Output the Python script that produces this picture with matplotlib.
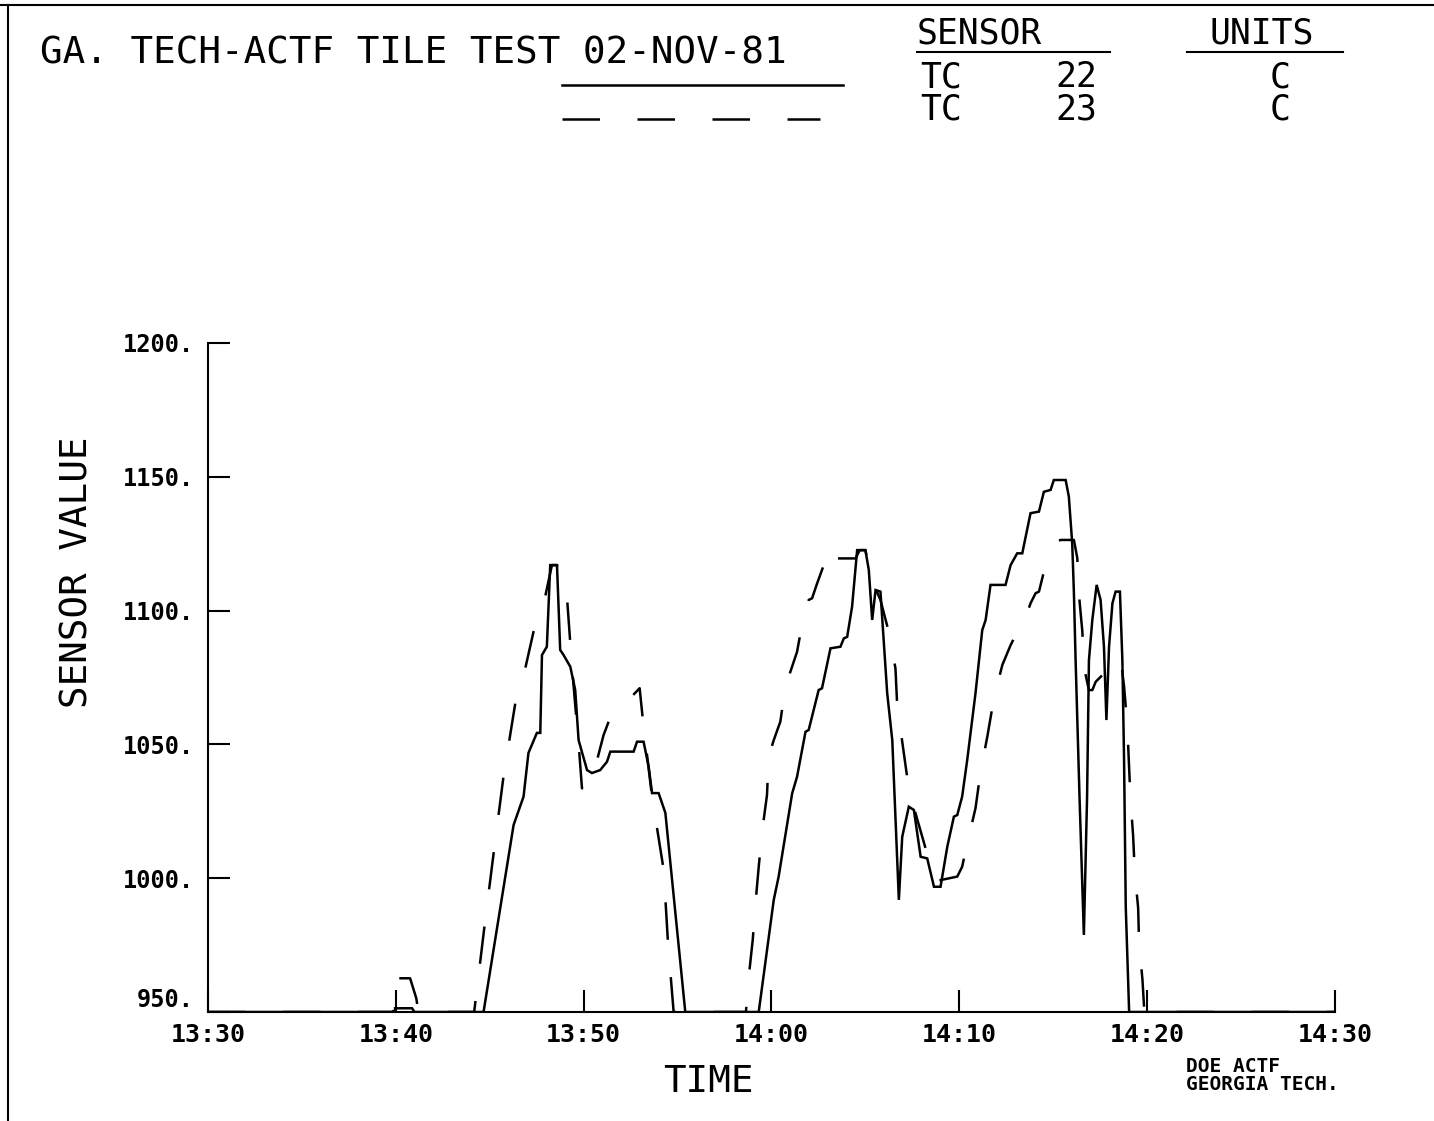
import matplotlib
matplotlib.use("Agg")
import matplotlib.pyplot as plt
from matplotlib.lines import Line2D

# minutes after 13:30 and sensor value (C)
tc22_t = [0, 9.96, 9.96, 10.86, 11.0, 14.67, 16.27, 16.80, 17.06, 17.51, 17.69, 17.78,
          18.04, 18.22, 18.58, 18.75, 18.93, 19.29, 19.55, 19.73, 20.18, 20.44, 20.88,
          21.24, 21.42, 22.66, 22.84, 23.19, 23.46, 23.64, 23.99, 24.35, 25.41, 29.32,
          30.12, 30.38, 31.10, 31.36, 31.81, 31.98, 32.51, 32.69, 33.14, 33.67, 33.85,
          34.03, 34.29, 34.56, 35.00, 35.18, 35.36, 35.54, 35.80, 36.16, 36.43, 36.78,
          36.96, 37.31, 37.58, 37.94, 38.29, 38.65, 39.00, 39.36, 39.71, 39.89, 40.15,
          40.42, 40.86, 41.22, 41.40, 41.66, 42.46, 42.73, 43.08, 43.35, 43.79, 44.24,
          44.50, 44.86, 45.03, 45.66, 45.83, 46.01, 46.10, 46.19, 46.40, 46.63, 46.80,
          46.90, 47.08, 47.31, 47.52, 47.70, 47.83, 47.97, 48.15, 48.32, 48.55, 48.68,
          48.77, 48.86, 49.04, 60]
tc22_v = [950, 950, 951.4, 951.4, 950, 950, 1019.9, 1030.5, 1046.8, 1054.3, 1054.3, 1083.4,
          1086.5, 1117.0, 1117.0, 1085.3, 1083.4, 1079.0, 1070.3, 1051.6, 1040.4, 1039.3, 1040.4,
          1043.5, 1047.3, 1047.3, 1051.0, 1051.0, 1041.7, 1031.8, 1031.8, 1024.4, 950, 950,
          991.9, 1000.6, 1031.7, 1037.9, 1054.7, 1055.4, 1070.3, 1071.0, 1085.9, 1086.5, 1089.6,
          1090.2, 1101.5, 1122.6, 1122.6, 1115.2, 1096.5, 1107.7, 1107.1, 1069.1, 1051.6, 991.9,
          1015.5, 1026.7, 1025.5, 1008.0, 1007.4, 996.8, 996.8, 1011.8, 1023.0, 1023.6, 1030.5,
          1044.2, 1069.1, 1092.7, 1096.5, 1109.6, 1109.6, 1117.0, 1121.4, 1121.4, 1136.4, 1137.0,
          1144.4, 1145.1, 1148.8, 1148.8, 1142.6, 1125.1, 1106.5, 1081.5, 1030.0, 978.8, 1030.0,
          1081.5, 1096.5, 1109.6, 1104.0, 1086.5, 1059.1, 1086.5, 1102.7, 1107.1, 1107.1, 1081.5,
          1044.2, 989.3, 950, 950]

tc23_t = [0, 9.87, 9.87, 10.76, 11.09, 11.2, 14.17, 14.76, 15.24, 15.73, 16.36, 16.89,
          17.33, 17.95, 18.31, 18.58, 19.11, 19.25, 19.38, 19.55, 19.73, 19.91, 20.26,
          20.53, 21.06, 21.33, 21.77, 22.04, 22.98, 23.19, 23.64, 24.26, 24.49, 24.79,
          28.64, 28.79, 29.00, 29.14, 29.32, 29.50, 29.76, 29.85, 30.12, 30.47, 30.74,
          31.36, 31.72, 31.98, 32.16, 32.43, 33.14, 33.40, 34.47, 34.70, 35.00, 35.30,
          35.80, 36.24, 36.60, 36.69, 36.96, 37.22, 37.58, 37.67, 38.20, 38.74, 39.00,
          39.89, 40.15, 40.42, 40.86, 41.13, 41.49, 41.84, 42.29, 42.73, 43.00, 43.22,
          43.79, 44.06, 44.24, 44.50, 45.22, 45.39, 46.10, 46.28, 46.37, 46.55, 46.63,
          46.90, 47.08, 47.26, 48.41, 48.59, 48.77, 48.94, 49.11, 49.25, 49.34, 49.52,
          49.57, 49.75, 49.85, 60]
tc23_v = [950, 950, 962.6, 962.6, 955.1, 950, 950, 984.4, 1011.2, 1037.9, 1065.4, 1078.4,
          1092.1, 1105.2, 1117.0, 1117.0, 1105.2, 1091.5, 1079.0, 1064.7, 1050.4, 1033.6, 1033.6,
          1039.2, 1053.5, 1058.5, 1063.5, 1064.1, 1071.0, 1056.6, 1030.5, 1003.1, 975.7, 950,
          950, 963.2, 976.9, 990.0, 1004.3, 1017.4, 1031.1, 1045.4, 1051.6, 1058.5, 1071.6,
          1084.6, 1098.4, 1104.0, 1104.6, 1110.2, 1123.9, 1119.5, 1119.5, 1122.6, 1122.6, 1112.0,
          1104.0, 1092.1, 1078.4, 1064.7, 1051.0, 1037.9, 1026.7, 1024.2, 1011.2, 999.3, 999.3,
          1000.6, 1004.3, 1013.0, 1026.1, 1039.8, 1052.9, 1067.2, 1079.7, 1087.1, 1090.9, 1091.3,
          1102.7, 1106.5, 1107.1, 1114.5, 1125.8, 1126.4, 1126.4, 1119.6, 1105.8, 1092.1, 1079.0,
          1070.3, 1070.3, 1073.4, 1081.5, 1082.2, 1071.6, 1057.3, 1029.9, 1016.1, 1002.4, 988.8,
          975.7, 962.0, 950, 950]

x_ticks = [0, 10, 20, 30, 40, 50, 60]
x_tick_labels = ["13:30", "13:40", "13:50", "14:00", "14:10", "14:20", "14:30"]
y_ticks = [950, 1000, 1050, 1100, 1150, 1200]
y_tick_labels = ["950.", "1000.", "1050.", "1100.", "1150.", "1200."]

W, H = 1434, 1121
MONO = "DejaVu Sans Mono"
LW = 1.8
DASH = (0, (15, 15))
HDR = 25


def fx(x):
    return x / W


def fy(y):
    return 1 - y / H


fig = plt.figure(figsize=(W / 100, H / 100), dpi=100)
ax = fig.add_axes([fx(208), fy(1012), fx(1335) - fx(208), fy(343) - fy(1012)])

ax.plot(tc22_t, tc22_v, color="black", lw=LW, solid_joinstyle="miter")
ax.plot(tc23_t, tc23_v, color="black", lw=LW, linestyle=DASH)

ax.set_xlim(0, 60)
ax.set_ylim(950, 1200)
ax.spines["top"].set_visible(False)
ax.spines["right"].set_visible(False)
ax.spines["left"].set_linewidth(1.5)
ax.spines["bottom"].set_linewidth(1.5)
ax.set_xticks(x_ticks)
ax.set_xticklabels(x_tick_labels, family=MONO, weight="bold", fontsize=18)
ax.set_yticks(y_ticks)
ax.set_yticklabels(y_tick_labels, family=MONO, weight="bold", fontsize=17)
ax.tick_params(axis="x", direction="in", length=16, width=1.5, pad=8)
ax.tick_params(axis="y", direction="in", length=16, width=1.5, pad=10)
# the 950. label sits a little above its tick, clear of the time labels
ax.get_yticklabels()[0].set_verticalalignment("bottom")

fig.text(fx(78), fy(572), "SENSOR VALUE", rotation=90, ha="center", va="center",
         family=MONO, fontsize=27)
fig.text(fx(708), fy(1082), "TIME", ha="center", va="center", family=MONO, fontsize=27)
fig.text(fx(1186), fy(1067), "DOE ACTF", ha="left", va="center",
         family=MONO, weight="bold", fontsize=14)
fig.text(fx(1186), fy(1085), "GEORGIA TECH.", ha="left", va="center",
         family=MONO, weight="bold", fontsize=14)

# header block
fig.text(fx(40), fy(53), "GA. TECH-ACTF TILE TEST 02-NOV-81", ha="left", va="center",
         family=MONO, fontsize=27)
fig.text(fx(917), fy(33), "SENSOR", ha="left", va="center", family=MONO, fontsize=HDR)
fig.text(fx(1210), fy(33), "UNITS", ha="left", va="center", family=MONO, fontsize=HDR)
fig.text(fx(920), fy(77), "TC", ha="left", va="center", family=MONO, fontsize=HDR)
fig.text(fx(1055), fy(77), "22", ha="left", va="center", family=MONO, fontsize=HDR)
fig.text(fx(1280), fy(77), "C", ha="center", va="center", family=MONO, fontsize=HDR)
fig.text(fx(920), fy(110), "TC", ha="left", va="center", family=MONO, fontsize=HDR)
fig.text(fx(1055), fy(110), "23", ha="left", va="center", family=MONO, fontsize=HDR)
fig.text(fx(1280), fy(110), "C", ha="center", va="center", family=MONO, fontsize=HDR)

fig.add_artist(Line2D([fx(917), fx(1110)], [fy(52), fy(52)], color="black", lw=1.5))
fig.add_artist(Line2D([fx(1187), fx(1343)], [fy(52), fy(52)], color="black", lw=1.5))
fig.add_artist(Line2D([fx(562), fx(843)], [fy(85), fy(85)], color="black", lw=LW))
fig.add_artist(Line2D([fx(562), fx(820)], [fy(119), fy(119)], color="black", lw=LW,
                      linestyle=DASH))

# page border from the scan
fig.add_artist(Line2D([fx(8), fx(8)], [fy(5), fy(1121)], color="black", lw=1.5))
fig.add_artist(Line2D([fx(0), fx(1434)], [fy(5), fy(5)], color="black", lw=1.5))

fig.savefig("out.png", dpi=100)
